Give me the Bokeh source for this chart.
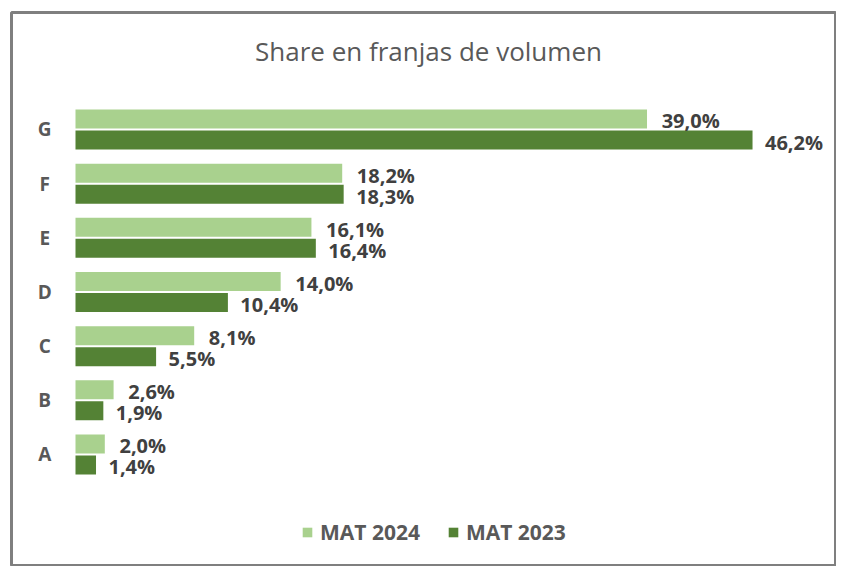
from bokeh.plotting import figure
from bokeh.models import ColumnDataSource, Label, Legend, LegendItem, Range1d
from bokeh.core.properties import value
from bokeh.embed import file_html
from bokeh.resources import INLINE

categories = ["A", "B", "C", "D", "E", "F", "G"]
mat2024 = [2.0, 2.6, 8.1, 14.0, 16.1, 18.2, 39.0]
mat2023 = [1.4, 1.9, 5.5, 10.4, 16.4, 18.3, 46.2]
series_names = ["MAT 2024", "MAT 2023"]
title_text = "Share en franjas de volumen"

LIGHT = "#a9d18e"
DARK = "#548235"
OFF = 0.194
BAR_H = 0.35

idx = list(range(len(categories)))
src = ColumnDataSource(dict(
    cat=categories,
    y=idx,
    y24=[i + OFF for i in idx],
    y23=[i - OFF for i in idx],
    v24=mat2024,
    v23=mat2023,
    lab24=[f"{v:.1f}%".replace(".", ",") for v in mat2024],
    lab23=[f"{v:.1f}%".replace(".", ",") for v in mat2023],
    lx24=[v + 1.0 for v in mat2024],
    lx23=[v + 0.85 for v in mat2023],
    cx=[-2.1] * len(categories),
))

p = figure(width=836, height=566, output_backend="svg", toolbar_location=None,
           x_range=Range1d(-4.367, 51.93), y_range=Range1d(-2.068, 8.16),
           min_border_left=11, min_border_top=12, min_border_right=0, min_border_bottom=0)
p.xaxis.visible = False
p.yaxis.visible = False
p.xgrid.visible = False
p.ygrid.visible = False
p.outline_line_color = "#7f7f7f"
p.outline_line_width = 3
p.background_fill_color = "white"
p.border_fill_color = "white"

r24 = p.hbar(y="y24", right="v24", left=0, height=BAR_H, source=src,
             fill_color=LIGHT, line_color=None)
r23 = p.hbar(y="y23", right="v23", left=0, height=BAR_H, source=src,
             fill_color=DARK, line_color=None)

lab_font = value("Open Sans")
p.text(x="lx24", y="y24", text="lab24", source=src, text_font=lab_font,
       text_font_style="bold", text_font_size="20px", text_color="#404040",
       text_align="left", text_baseline="middle", y_offset=2)
p.text(x="lx23", y="y23", text="lab23", source=src, text_font=lab_font,
       text_font_style="bold", text_font_size="20px", text_color="#404040",
       text_align="left", text_baseline="middle", y_offset=2)
p.text(x="cx", y="y", text="cat", source=src, text_font=lab_font,
       text_font_style="bold", text_font_size="19px", text_color="#595959",
       text_align="center", text_baseline="middle")

p.add_layout(Label(x=417, y=516, x_units="screen", y_units="screen",
                   text=title_text, text_font="Open Sans", text_font_size="26px",
                   text_color="#595959", text_align="center", text_baseline="middle"))

legend = Legend(items=[LegendItem(label=series_names[0], renderers=[r24]),
                       LegendItem(label=series_names[1], renderers=[r23])],
                orientation="horizontal", location=(290, 20),
                glyph_width=12, glyph_height=12, label_standoff=7, spacing=27,
                padding=0, margin=0, border_line_color=None,
                background_fill_alpha=0,
                label_text_font="Open Sans", label_text_font_size="21px",
                label_text_font_style="bold", label_text_color="#595959")
p.add_layout(legend, "center")

open("out.html", "w").write(file_html(p, INLINE))
